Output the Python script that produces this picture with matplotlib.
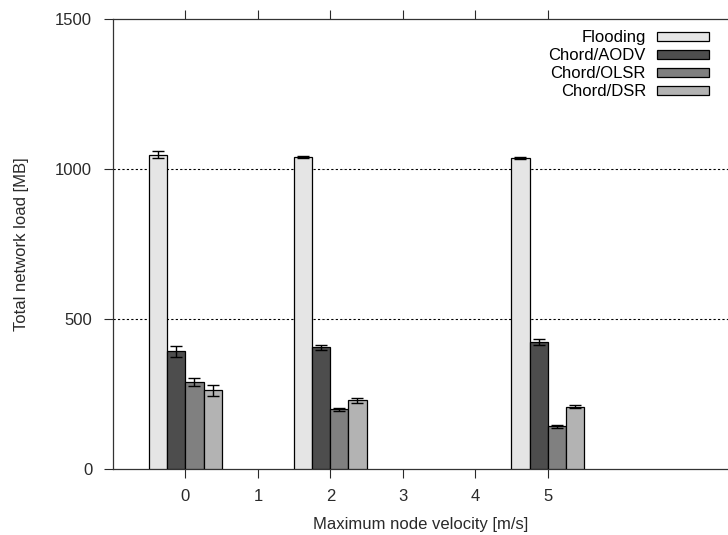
import matplotlib.pyplot as plt
import numpy as np
from matplotlib.patches import Patch

plt.rcParams['font.family'] = ['Liberation Sans', 'DejaVu Sans']

velocities = [0, 2, 5]
series = ["Flooding", "Chord/AODV", "Chord/OLSR", "Chord/DSR"]
flooding = [1048, 1041, 1036]
flooding_err = [11, 4, 4]
aodv = [393, 406, 423]
aodv_err = [18, 8, 9]
olsr = [290, 199, 143]
olsr_err = [13, 4, 5]
dsr = [262, 229, 208]
dsr_err = [17, 8, 4]

colors = ['#e5e5e5', '#4d4d4d', '#808080', '#b3b3b3']
values = [flooding, aodv, olsr, dsr]
errors = [flooding_err, aodv_err, olsr_err, dsr_err]

fig = plt.figure(figsize=(7.28, 5.35), dpi=100)
ax = fig.add_axes([113 / 728, 66 / 535, 615 / 728, 450 / 535])

width = 0.25
x = np.array(velocities, dtype=float)
for i, (vals, errs, c) in enumerate(zip(values, errors, colors)):
    offs = (i - 1.5) * width
    ax.bar(x + offs, vals, width, color=c, edgecolor='black', linewidth=0.9, zorder=3)
    ax.errorbar(x + offs, vals, yerr=errs, fmt='none', ecolor='black',
                elinewidth=1, capsize=4, capthick=1, zorder=4)

ax.set_xlim(-1, 7.49)
ax.set_ylim(0, 1500)
ax.set_xticks([0, 1, 2, 3, 4, 5])
ax.set_yticks([0, 500, 1000, 1500])
ax.tick_params(direction='out', length=6.5, width=0.8, top=True, labelsize=12,
               colors='#2a2a2a')
ax.tick_params(axis='x', pad=8)
ax.tick_params(axis='y', pad=8.5)
ax.spines['right'].set_visible(False)
for s in ['left', 'bottom', 'top']:
    ax.spines[s].set_color('#333333')
    ax.spines[s].set_linewidth(0.9)

for yv in [500, 1000]:
    ax.axhline(yv, color='black', linestyle=(0, (2, 2)), linewidth=0.8, zorder=1)

ax.set_xlabel("Maximum node velocity [m/s]", fontsize=12, labelpad=9, color='#2a2a2a')
ax.set_ylabel("Total network load [MB]", fontsize=12, labelpad=18.5, color='#2a2a2a')

handles = [Patch(facecolor=c, edgecolor='black', linewidth=0.9) for c in colors]
ax.legend(handles, series, loc='upper right', bbox_to_anchor=(0.969, 0.975),
          frameon=False, markerfirst=False, handlelength=3.1, handleheight=0.5,
          labelspacing=0.185, borderpad=0, borderaxespad=0, handletextpad=0.68,
          fontsize=12)

fig.savefig('out.png', dpi=100)
